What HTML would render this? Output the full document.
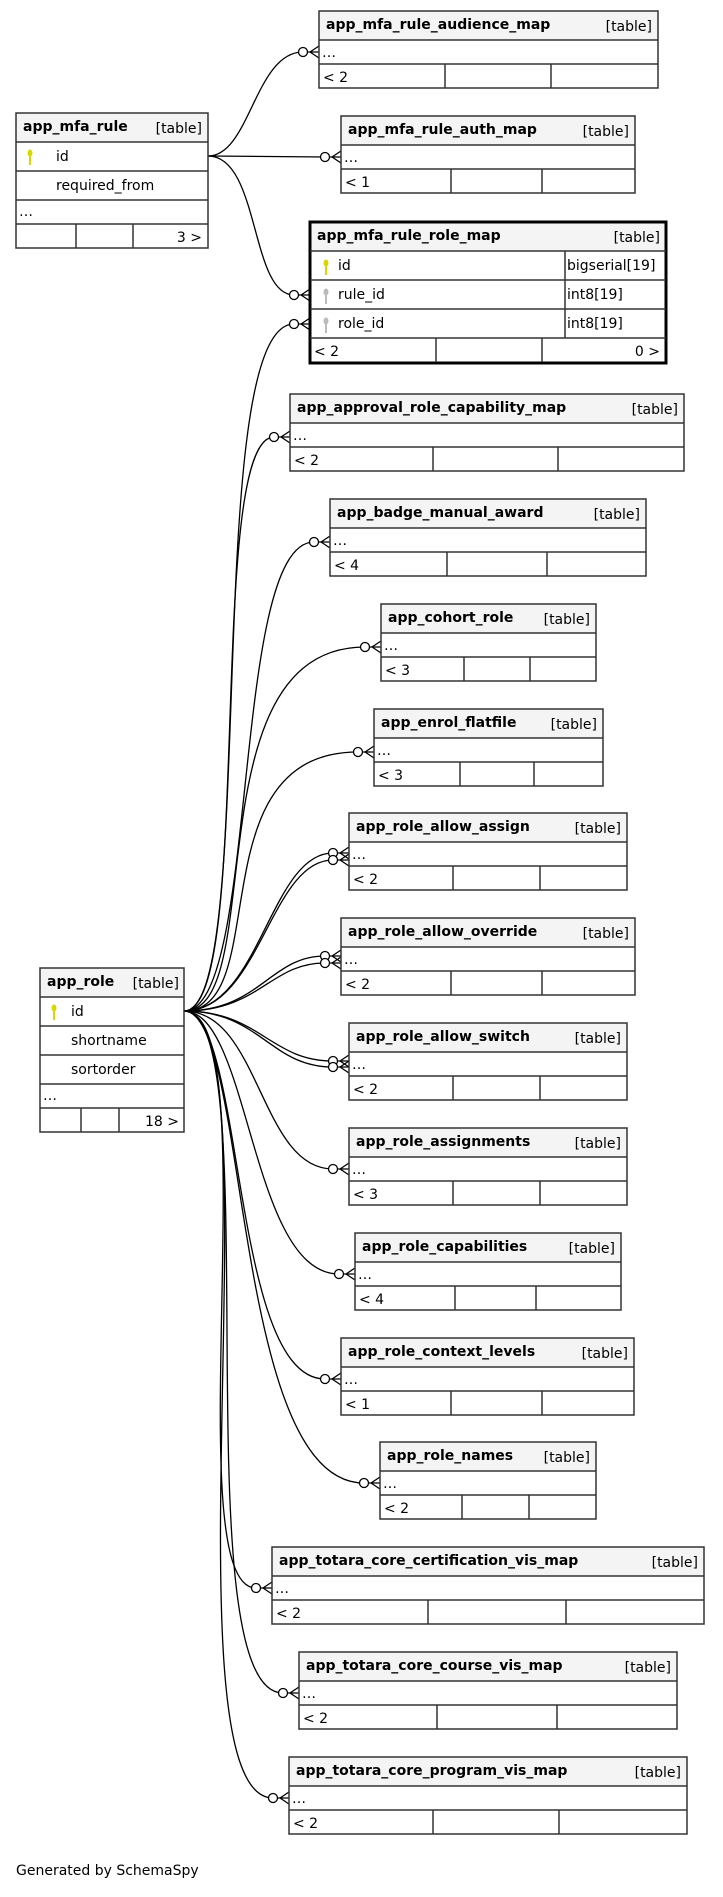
<!DOCTYPE html>
<html><head><meta charset="utf-8"><style>
html,body{margin:0;padding:0;background:#fff;}
svg{display:block;}
text{font-family:"DejaVu Sans","Liberation Sans",sans-serif;font-size:14px;fill:#000;}
.h{font-weight:bold;}
.t{fill:#f4f4f4;}
.b{fill:none;stroke:#333;stroke-width:1.5;}
.l{stroke:#333;stroke-width:1.5;}
.e{fill:none;stroke:#000;stroke-width:1.3;}
.c{fill:#fff;stroke:#000;stroke-width:1.3;}
</style></head><body>
<svg width="723" height="1897" viewBox="0 0 723 1897" xmlns="http://www.w3.org/2000/svg">
<defs>
<g id="cf"><circle class="c" cx="-16" cy="0" r="4.5"/><path class="e" d="M-11.5,0 L0,0 M-9,0 L0,-6 M-9,0 L0,6" stroke-width="1.8"/></g>
<g id="ky"><ellipse cx="0" cy="-3" rx="2.5" ry="3.5"/><rect x="-1" y="-1" width="2" height="10"/></g>
</defs>

<path class="e" d="M208,156 C250,156 255,52 303,52"/>
<path class="e" d="M208,156 L325,157"/>
<path class="e" d="M208,156 C260,156 250,295 294,295"/>
<use href="#cf" x="319" y="52"/>
<use href="#cf" x="341" y="157"/>
<use href="#cf" x="310" y="295"/>

<g>
<path class="e" d="M184,1011 C260,1011 200,324 294,324"/>
<path class="e" d="M184,1011 C255,1011 205,437 274,437"/>
<path class="e" d="M184,1011 C260,1011 230,542 314,542"/>
<path class="e" d="M184,1011 C270,1011 190,647 365,647"/>
<path class="e" d="M184,1011 C275,1011 195,752 358,752"/>
<path class="e" d="M184,1011 C260,1011 270,853 333,853"/>
<path class="e" d="M184,1011 C260,1011 270,860 333,860"/>
<path class="e" d="M184,1011 C260,1011 270,956 325,956"/>
<path class="e" d="M184,1011 C260,1011 270,963 325,963"/>
<path class="e" d="M184,1011 C260,1011 270,1061 333,1061"/>
<path class="e" d="M184,1011 C260,1011 270,1067 333,1067"/>
<path class="e" d="M184,1011 C260,1011 260,1169 333,1169"/>
<path class="e" d="M184,1011 C250,1011 250,1274 339,1274"/>
<path class="e" d="M184,1011 C245,1011 230,1379 325,1379"/>
<path class="e" d="M184,1011 C250,1011 230,1483 364,1483"/>
<path class="e" d="M184,1011 C270,1011 175,1588 256,1588"/>
<path class="e" d="M184,1011 C270,1011 180,1693 283,1693"/>
<path class="e" d="M184,1011 C280,1011 160,1798 273,1798"/>
</g>
<use href="#cf" x="310" y="324"/>
<use href="#cf" x="290" y="437"/>
<use href="#cf" x="330" y="542"/>
<use href="#cf" x="381" y="647"/>
<use href="#cf" x="374" y="752"/>
<use href="#cf" x="349" y="853"/>
<use href="#cf" x="349" y="860"/>
<use href="#cf" x="341" y="956"/>
<use href="#cf" x="341" y="963"/>
<use href="#cf" x="349" y="1061"/>
<use href="#cf" x="349" y="1067"/>
<use href="#cf" x="349" y="1169"/>
<use href="#cf" x="355" y="1274"/>
<use href="#cf" x="341" y="1379"/>
<use href="#cf" x="380" y="1483"/>
<use href="#cf" x="272" y="1588"/>
<use href="#cf" x="299" y="1693"/>
<use href="#cf" x="289" y="1798"/>

<rect class="t" x="16" y="113" width="192" height="29"/>
<rect class="b" x="16" y="113" width="192" height="135"/>
<line class="l" x1="16" y1="142" x2="208" y2="142"/><line class="l" x1="16" y1="171" x2="208" y2="171"/><line class="l" x1="16" y1="200" x2="208" y2="200"/><line class="l" x1="16" y1="224" x2="208" y2="224"/>
<line class="l" x1="76" y1="224" x2="76" y2="248"/><line class="l" x1="133" y1="224" x2="133" y2="248"/>
<text class="h" x="23" y="131">app_mfa_rule</text><text x="202" y="133" text-anchor="end">[table]</text>
<use href="#ky" x="30" y="156" fill="#d8d800"/>
<text x="56" y="161">id</text><text x="56" y="190">required_from</text><text x="19" y="216">…</text><text x="202" y="242" text-anchor="end">3 &gt;</text>

<rect class="t" x="310" y="222" width="356" height="29"/>
<rect fill="none" stroke="#000" stroke-width="3" x="310" y="222" width="356" height="141"/>
<line class="l" x1="310" y1="251" x2="666" y2="251"/><line class="l" x1="310" y1="280" x2="666" y2="280"/><line class="l" x1="310" y1="309" x2="666" y2="309"/><line class="l" x1="310" y1="338" x2="666" y2="338"/>
<line class="l" x1="565" y1="251" x2="565" y2="338"/><line class="l" x1="436" y1="338" x2="436" y2="362"/><line class="l" x1="542" y1="338" x2="542" y2="362"/>
<text class="h" x="317" y="240">app_mfa_rule_role_map</text><text x="660" y="242" text-anchor="end">[table]</text>
<use href="#ky" x="326" y="266" fill="#d8d800"/><use href="#ky" x="326" y="295" fill="#bbb"/><use href="#ky" x="326" y="324" fill="#bbb"/>
<text x="338" y="270">id</text><text x="338" y="299">rule_id</text><text x="338" y="328">role_id</text>
<text x="567" y="270">bigserial[19]</text><text x="567" y="299">int8[19]</text><text x="567" y="328">int8[19]</text>
<text x="314" y="356">&lt; 2</text><text x="660" y="356" text-anchor="end">0 &gt;</text>

<rect class="t" x="40" y="968" width="144" height="29"/>
<rect class="b" x="40" y="968" width="144" height="164"/>
<line class="l" x1="40" y1="997" x2="184" y2="997"/><line class="l" x1="40" y1="1026" x2="184" y2="1026"/><line class="l" x1="40" y1="1055" x2="184" y2="1055"/><line class="l" x1="40" y1="1084" x2="184" y2="1084"/><line class="l" x1="40" y1="1108" x2="184" y2="1108"/>
<line class="l" x1="81" y1="1108" x2="81" y2="1132"/><line class="l" x1="119" y1="1108" x2="119" y2="1132"/>
<text class="h" x="47" y="986">app_role</text><text x="179" y="988" text-anchor="end">[table]</text>
<use href="#ky" x="54" y="1011" fill="#d8d800"/>
<text x="71" y="1016">id</text><text x="71" y="1045">shortname</text><text x="71" y="1074">sortorder</text><text x="43" y="1100">…</text><text x="179" y="1126" text-anchor="end">18 &gt;</text>

<g>
<rect class="t" x="319" y="11" width="339" height="29"/><rect class="b" x="319" y="11" width="339" height="77"/><line class="l" x1="319" y1="40" x2="658" y2="40"/><line class="l" x1="319" y1="64" x2="658" y2="64"/><line class="l" x1="445" y1="64" x2="445" y2="88"/><line class="l" x1="551" y1="64" x2="551" y2="88"/>
<text class="h" x="326" y="29">app_mfa_rule_audience_map</text><text x="652" y="31" text-anchor="end">[table]</text><text x="322" y="57">…</text><text x="323" y="82">&lt; 2</text>
</g>
<g>
<rect class="t" x="341" y="116" width="294" height="29"/><rect class="b" x="341" y="116" width="294" height="77"/><line class="l" x1="341" y1="145" x2="635" y2="145"/><line class="l" x1="341" y1="169" x2="635" y2="169"/><line class="l" x1="451" y1="169" x2="451" y2="193"/><line class="l" x1="542" y1="169" x2="542" y2="193"/>
<text class="h" x="348" y="134">app_mfa_rule_auth_map</text><text x="629" y="136" text-anchor="end">[table]</text><text x="344" y="162">…</text><text x="345" y="187">&lt; 1</text>
</g>
<g>
<rect class="t" x="290" y="394" width="394" height="29"/><rect class="b" x="290" y="394" width="394" height="77"/><line class="l" x1="290" y1="423" x2="684" y2="423"/><line class="l" x1="290" y1="447" x2="684" y2="447"/><line class="l" x1="433" y1="447" x2="433" y2="471"/><line class="l" x1="558" y1="447" x2="558" y2="471"/>
<text class="h" x="297" y="412">app_approval_role_capability_map</text><text x="678" y="414" text-anchor="end">[table]</text><text x="293" y="440">…</text><text x="294" y="465">&lt; 2</text>
</g>
<g>
<rect class="t" x="330" y="499" width="316" height="29"/><rect class="b" x="330" y="499" width="316" height="77"/><line class="l" x1="330" y1="528" x2="646" y2="528"/><line class="l" x1="330" y1="552" x2="646" y2="552"/><line class="l" x1="447" y1="552" x2="447" y2="576"/><line class="l" x1="547" y1="552" x2="547" y2="576"/>
<text class="h" x="337" y="517">app_badge_manual_award</text><text x="640" y="519" text-anchor="end">[table]</text><text x="333" y="545">…</text><text x="334" y="570">&lt; 4</text>
</g>
<g>
<rect class="t" x="381" y="604" width="215" height="29"/><rect class="b" x="381" y="604" width="215" height="77"/><line class="l" x1="381" y1="633" x2="596" y2="633"/><line class="l" x1="381" y1="657" x2="596" y2="657"/><line class="l" x1="464" y1="657" x2="464" y2="681"/><line class="l" x1="530" y1="657" x2="530" y2="681"/>
<text class="h" x="388" y="622">app_cohort_role</text><text x="590" y="624" text-anchor="end">[table]</text><text x="384" y="650">…</text><text x="385" y="675">&lt; 3</text>
</g>
<g>
<rect class="t" x="374" y="709" width="229" height="29"/><rect class="b" x="374" y="709" width="229" height="77"/><line class="l" x1="374" y1="738" x2="603" y2="738"/><line class="l" x1="374" y1="762" x2="603" y2="762"/><line class="l" x1="460" y1="762" x2="460" y2="786"/><line class="l" x1="534" y1="762" x2="534" y2="786"/>
<text class="h" x="381" y="727">app_enrol_flatfile</text><text x="597" y="729" text-anchor="end">[table]</text><text x="377" y="755">…</text><text x="378" y="780">&lt; 3</text>
</g>
<g>
<rect class="t" x="349" y="813" width="278" height="29"/><rect class="b" x="349" y="813" width="278" height="77"/><line class="l" x1="349" y1="842" x2="627" y2="842"/><line class="l" x1="349" y1="866" x2="627" y2="866"/><line class="l" x1="453" y1="866" x2="453" y2="890"/><line class="l" x1="540" y1="866" x2="540" y2="890"/>
<text class="h" x="356" y="831">app_role_allow_assign</text><text x="621" y="833" text-anchor="end">[table]</text><text x="352" y="859">…</text><text x="353" y="884">&lt; 2</text>
</g>
<g>
<rect class="t" x="341" y="918" width="294" height="29"/><rect class="b" x="341" y="918" width="294" height="77"/><line class="l" x1="341" y1="947" x2="635" y2="947"/><line class="l" x1="341" y1="971" x2="635" y2="971"/><line class="l" x1="451" y1="971" x2="451" y2="995"/><line class="l" x1="542" y1="971" x2="542" y2="995"/>
<text class="h" x="348" y="936">app_role_allow_override</text><text x="629" y="938" text-anchor="end">[table]</text><text x="344" y="964">…</text><text x="345" y="989">&lt; 2</text>
</g>
<g>
<rect class="t" x="349" y="1023" width="278" height="29"/><rect class="b" x="349" y="1023" width="278" height="77"/><line class="l" x1="349" y1="1052" x2="627" y2="1052"/><line class="l" x1="349" y1="1076" x2="627" y2="1076"/><line class="l" x1="453" y1="1076" x2="453" y2="1100"/><line class="l" x1="540" y1="1076" x2="540" y2="1100"/>
<text class="h" x="356" y="1041">app_role_allow_switch</text><text x="621" y="1043" text-anchor="end">[table]</text><text x="352" y="1069">…</text><text x="353" y="1094">&lt; 2</text>
</g>
<g>
<rect class="t" x="349" y="1128" width="278" height="29"/><rect class="b" x="349" y="1128" width="278" height="77"/><line class="l" x1="349" y1="1157" x2="627" y2="1157"/><line class="l" x1="349" y1="1181" x2="627" y2="1181"/><line class="l" x1="453" y1="1181" x2="453" y2="1205"/><line class="l" x1="540" y1="1181" x2="540" y2="1205"/>
<text class="h" x="356" y="1146">app_role_assignments</text><text x="621" y="1148" text-anchor="end">[table]</text><text x="352" y="1174">…</text><text x="353" y="1199">&lt; 3</text>
</g>
<g>
<rect class="t" x="355" y="1233" width="266" height="29"/><rect class="b" x="355" y="1233" width="266" height="77"/><line class="l" x1="355" y1="1262" x2="621" y2="1262"/><line class="l" x1="355" y1="1286" x2="621" y2="1286"/><line class="l" x1="455" y1="1286" x2="455" y2="1310"/><line class="l" x1="536" y1="1286" x2="536" y2="1310"/>
<text class="h" x="362" y="1251">app_role_capabilities</text><text x="615" y="1253" text-anchor="end">[table]</text><text x="358" y="1279">…</text><text x="359" y="1304">&lt; 4</text>
</g>
<g>
<rect class="t" x="341" y="1338" width="293" height="29"/><rect class="b" x="341" y="1338" width="293" height="77"/><line class="l" x1="341" y1="1367" x2="634" y2="1367"/><line class="l" x1="341" y1="1391" x2="634" y2="1391"/><line class="l" x1="451" y1="1391" x2="451" y2="1415"/><line class="l" x1="542" y1="1391" x2="542" y2="1415"/>
<text class="h" x="348" y="1356">app_role_context_levels</text><text x="628" y="1358" text-anchor="end">[table]</text><text x="344" y="1384">…</text><text x="345" y="1409">&lt; 1</text>
</g>
<g>
<rect class="t" x="380" y="1442" width="216" height="29"/><rect class="b" x="380" y="1442" width="216" height="77"/><line class="l" x1="380" y1="1471" x2="596" y2="1471"/><line class="l" x1="380" y1="1495" x2="596" y2="1495"/><line class="l" x1="462" y1="1495" x2="462" y2="1519"/><line class="l" x1="529" y1="1495" x2="529" y2="1519"/>
<text class="h" x="387" y="1460">app_role_names</text><text x="590" y="1462" text-anchor="end">[table]</text><text x="383" y="1488">…</text><text x="384" y="1513">&lt; 2</text>
</g>
<g>
<rect class="t" x="272" y="1547" width="432" height="29"/><rect class="b" x="272" y="1547" width="432" height="77"/><line class="l" x1="272" y1="1576" x2="704" y2="1576"/><line class="l" x1="272" y1="1600" x2="704" y2="1600"/><line class="l" x1="428" y1="1600" x2="428" y2="1624"/><line class="l" x1="566" y1="1600" x2="566" y2="1624"/>
<text class="h" x="279" y="1565">app_totara_core_certification_vis_map</text><text x="698" y="1567" text-anchor="end">[table]</text><text x="275" y="1593">…</text><text x="276" y="1618">&lt; 2</text>
</g>
<g>
<rect class="t" x="299" y="1652" width="378" height="29"/><rect class="b" x="299" y="1652" width="378" height="77"/><line class="l" x1="299" y1="1681" x2="677" y2="1681"/><line class="l" x1="299" y1="1705" x2="677" y2="1705"/><line class="l" x1="437" y1="1705" x2="437" y2="1729"/><line class="l" x1="557" y1="1705" x2="557" y2="1729"/>
<text class="h" x="306" y="1670">app_totara_core_course_vis_map</text><text x="671" y="1672" text-anchor="end">[table]</text><text x="302" y="1698">…</text><text x="303" y="1723">&lt; 2</text>
</g>
<g>
<rect class="t" x="289" y="1757" width="398" height="29"/><rect class="b" x="289" y="1757" width="398" height="77"/><line class="l" x1="289" y1="1786" x2="687" y2="1786"/><line class="l" x1="289" y1="1810" x2="687" y2="1810"/><line class="l" x1="433" y1="1810" x2="433" y2="1834"/><line class="l" x1="559" y1="1810" x2="559" y2="1834"/>
<text class="h" x="296" y="1775">app_totara_core_program_vis_map</text><text x="681" y="1777" text-anchor="end">[table]</text><text x="292" y="1803">…</text><text x="293" y="1828">&lt; 2</text>
</g>

<text x="16" y="1875">Generated by SchemaSpy</text>
</svg>
</body></html>
